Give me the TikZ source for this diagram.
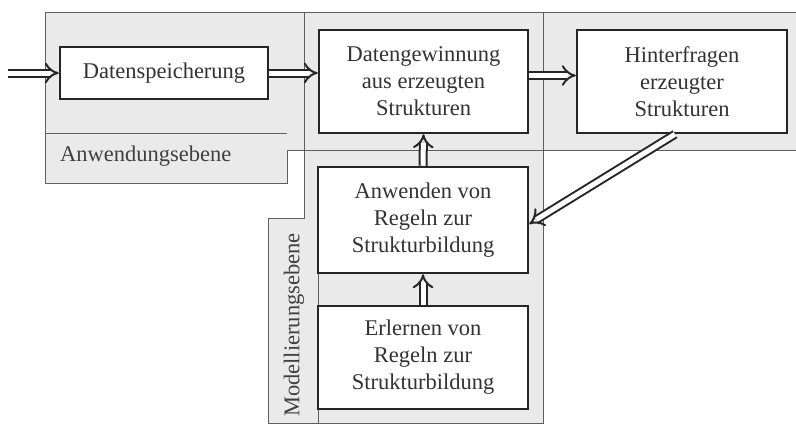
\documentclass[tikz,border=0pt]{standalone}
\usepackage{fontspec}
\setmainfont{Liberation Serif}
\usetikzlibrary{arrows.meta}
\definecolor{bgray}{RGB}{234,234,234}
\definecolor{lgray}{RGB}{95,95,95}
\begin{document}
\begin{tikzpicture}[x=1pt,y=-1pt,
  sep/.style={draw=lgray, line width=1pt},
  box/.style={draw=black!85, line width=2.5pt, fill=white, minimum width=210pt,
    minimum height=103pt, inner sep=0pt, align=center,
    font=\fontsize{22.5}{27}\selectfont, text=black!80},
  flow/.style={double=white, double distance=5pt, line width=2pt,
    draw=black!85, -{Implies}},
  lbl/.style={font=\fontsize{22.5}{27}\selectfont, text=black!75, inner sep=0pt}
]
\useasboundingbox (0,0) rectangle (796,426);
% background regions
\fill[bgray] (45,12) -- (796,12) -- (796,150) -- (543,150) -- (543,423)
  -- (268,423) -- (268,218) -- (304,218) -- (304,150) -- (287,150)
  -- (287,183) -- (45,183) -- cycle;
\draw[sep] (45,183) -- (45,12) -- (796,12);
\draw[sep] (796,150) -- (287,150) -- (287,183) -- (45,183);
\draw[sep] (45,133) -- (287,133);
\draw[sep] (304,12) -- (304,218) -- (268,218) -- (268,423) -- (543,423) -- (543,12);
\draw[sep] (318,218) -- (318,423);
% labels
\node[lbl, anchor=west] (anw) at (60,156) {Anwendungsebene};
\node[lbl, rotate=90] (mod) at (294,325) {Modellierungsebene};
% boxes
\node[box, minimum width=208pt, minimum height=52pt] (dsp) at (164,73) {Datenspeicherung};
\node[box, minimum width=209pt] (dg) at (423.5,81.5) {Datengewinnung\\aus erzeugten\\Strukturen};
\node[box] (hf) at (682,81.5) {Hinterfragen\\erzeugter\\Strukturen};
\node[box, minimum height=106pt] (ar) at (423,220) {Anwenden von\\Regeln zur\\Strukturbildung};
\node[box] (er) at (423,357.5) {Erlernen von\\Regeln zur\\Strukturbildung};
% connectors
\coordinate (in) at (8,73);
\draw[flow] (in) -- (dsp.west);
\draw[flow] (dsp.east) -- (dsp.east -| dg.west);
\draw[flow] ([yshift=6pt]dg.east) -- ([yshift=6pt]hf.west);
\draw[flow] (ar.north) -- (dg.south);
\draw[flow] (er.north) -- (ar.south);
\draw[flow] ([xshift=-7pt]hf.south) -- ([yshift=-4pt]ar.east);
\end{tikzpicture}
\end{document}
